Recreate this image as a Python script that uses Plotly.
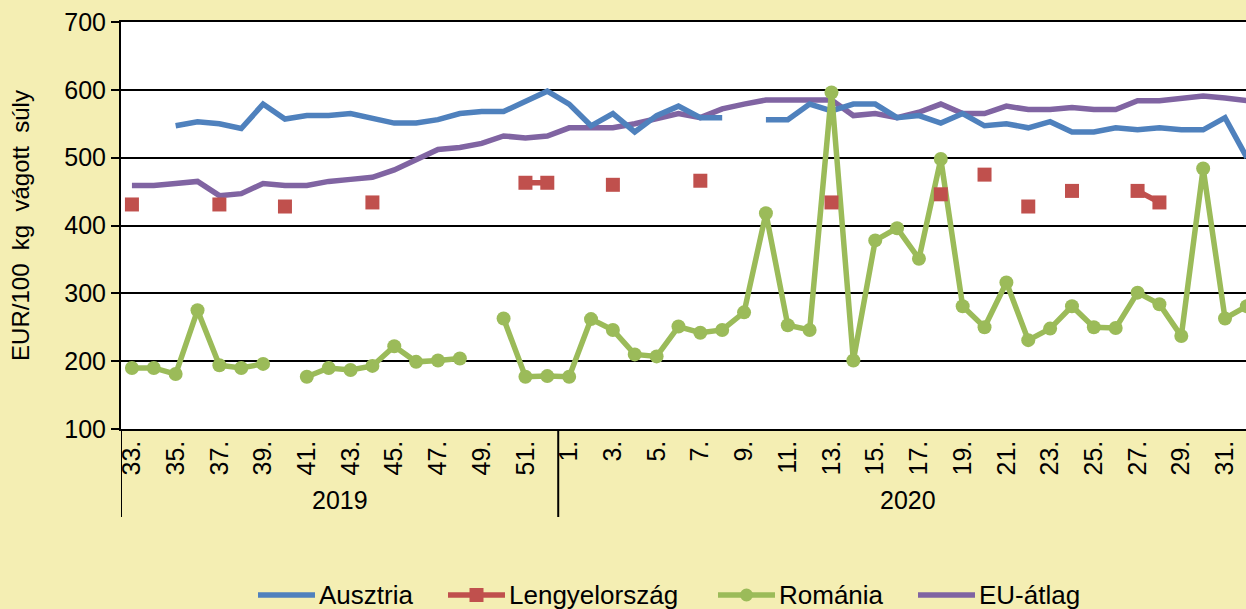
import plotly.graph_objects as go

# Weeks shown on the category axis: 2019 weeks 33-52, then 2020 weeks 1-32
weeks_2019 = list(range(33, 53))
weeks_2020 = list(range(1, 33))
weeks = weeks_2019 + weeks_2020

# EUR/100 kg carcass weight
ausztria = [None, None, 547, 553, 550, 543, 579, 557, 562, 562, 565, 559, 551, 551, 556, 565, 568, 568, 584, 598,
            579, 547, 565, 538, 562, 576, 559, 559, None, 556, 556, 579, 569, 579, 579, 559, 562, 551, 565, 547,
            550, 544, 553, 538, 538, 544, 541, 544, 541, 541, 559, 500]
lengyelorszag = [431, None, None, None, 431, None, None, 428, None, None, None, 434, None, None, None, None, None, None, 463, 463,
                 None, None, 460, None, None, None, 466, None, None, None, None, None, 434, None, None, None, None, 446, None, 475,
                 None, 428, None, 451, None, None, 451, 434, None, None, None, None]
romania = [190, 190, 181, 275, 194, 190, 196, None, 177, 190, 187, 193, 222, 199, 201, 204, None, 263, 177, 178,
           177, 262, 246, 210, 207, 251, 242, 246, 272, 418, 253, 246, 596, 201, 378, 396, 351, 498, 281, 250,
           316, 231, 248, 281, 250, 249, 301, 284, 237, 484, 263, 281]
eu_atlag = [459, 459, 462, 465, 444, 447, 462, 459, 459, 465, 468, 471, 482, 497, 512, 515, 521, 532, 529, 532,
            544, 544, 544, 550, 557, 565, 559, 572, 579, 585, 585, 585, 585, 562, 565, 559, 567, 579, 565, 565,
            576, 571, 571, 574, 571, 571, 584, 584, 587, 591, 588, 584]

x = list(range(len(weeks)))
tick_idx = [i for i, w in enumerate(weeks) if w % 2 == 1]
tick_txt = [f"{weeks[i]}." for i in tick_idx]

BLUE, RED, GREEN, PURPLE = "#4F81BD", "#C0504D", "#9BBB59", "#8064A2"
FONT = "Liberation Sans, Arial, sans-serif"
BG = "#F4EEB3"
LW = 5.5

W, H = 1246, 609
ML, MR, MT, MB = 121, 0, 22, 180
PW, PH = W - ML - MR, H - MT - MB


def px(xp):
    return (xp - ML) / PW


def py(yp):
    return (H - MB - yp) / PH


fig = go.Figure()
fig.add_trace(go.Scatter(x=x, y=eu_atlag, name="EU-átlag", mode="lines",
                         line=dict(color=PURPLE, width=LW)))
fig.add_trace(go.Scatter(x=x, y=ausztria, name="Ausztria", mode="lines",
                         line=dict(color=BLUE, width=LW)))
fig.add_trace(go.Scatter(x=x, y=romania, name="Románia", mode="lines+markers",
                         line=dict(color=GREEN, width=LW),
                         marker=dict(symbol="circle", size=14, color=GREEN)))
fig.add_trace(go.Scatter(x=x, y=lengyelorszag, name="Lengyelország", mode="lines+markers",
                         line=dict(color=RED, width=LW),
                         marker=dict(symbol="square", size=14, color=RED)))

# Year group labels and separators below the week labels
n19 = len(weeks_2019)
for yr, centre in (("2019", (n19 - 1) / 2), ("2020", n19 + (len(weeks_2020) - 1) / 2)):
    fig.add_annotation(x=centre, y=py(500), xref="x", yref="paper", text=yr, showarrow=False,
                       font=dict(family=FONT, size=25, color="black"), yanchor="middle")
for xv in (-0.5, n19 - 0.5):
    fig.add_shape(type="line", xref="x", yref="paper", x0=xv, x1=xv, y0=0, y1=py(517),
                  line=dict(color="black", width=2))

# Legend row under the chart
legend_items = [
    ("Ausztria", BLUE, None, 258),
    ("Lengyelország", RED, "square", 448),
    ("Románia", GREEN, "circle", 718),
    ("EU-átlag", PURPLE, None, 918),
]
ly = 595
for name, col, sym, x0 in legend_items:
    fig.add_shape(type="line", xref="paper", yref="paper", x0=px(x0), x1=px(x0 + 57),
                  y0=py(ly), y1=py(ly), line=dict(color=col, width=LW))
    cx = x0 + 28.5
    if sym == "square":
        fig.add_shape(type="rect", xref="paper", yref="paper", x0=px(cx - 7), x1=px(cx + 7),
                      y0=py(ly + 7), y1=py(ly - 7), fillcolor=col, line=dict(width=0))
    elif sym == "circle":
        fig.add_shape(type="circle", xref="paper", yref="paper", x0=px(cx - 6.5), x1=px(cx + 6.5),
                      y0=py(ly + 6.5), y1=py(ly - 6.5), fillcolor=col, line=dict(width=0))
    fig.add_annotation(x=px(x0 + 59), y=py(ly), xref="paper", yref="paper", text=name,
                       showarrow=False, xanchor="left", yanchor="middle",
                       font=dict(family=FONT, size=26, color="black"))

fig.update_layout(
    width=W, height=H,
    paper_bgcolor=BG, plot_bgcolor="white",
    margin=dict(l=ML, r=MR, t=MT, b=MB),
    font=dict(family=FONT, size=25, color="black"),
    showlegend=False,
    xaxis=dict(range=[-0.5, 50.96], tickmode="array", tickvals=tick_idx, ticktext=tick_txt,
               tickangle=-90, showgrid=False, zeroline=False, ticks="", automargin=False,
               showline=True, mirror=True, linecolor="black", linewidth=1.5,
               tickfont=dict(family=FONT, size=25)),
    yaxis=dict(range=[100, 700], dtick=100, showgrid=True, gridcolor="black", gridwidth=1.5,
               zeroline=False, showline=True, linecolor="black", linewidth=2, automargin=False,
               ticks="outside", ticklen=8, tickcolor="black", tickwidth=1.5,
               tickfont=dict(family=FONT, size=25),
               title=dict(text="EUR/100\u00a0 kg\u00a0 vágott\u00a0 súly",
                          font=dict(family=FONT, size=24), standoff=28)),
)

fig.write_html("out.html")
